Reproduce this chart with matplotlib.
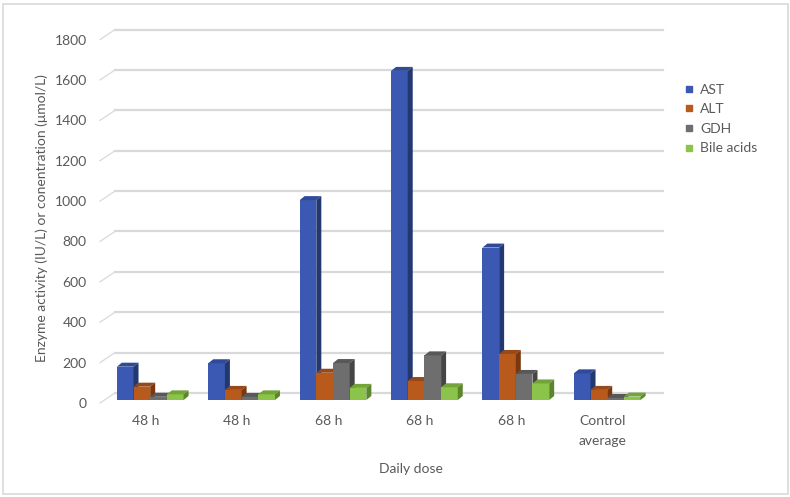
import numpy as np
import matplotlib
matplotlib.use('Agg')
import matplotlib.pyplot as plt
from matplotlib.patches import Polygon, Rectangle
from matplotlib.lines import Line2D

plt.rcParams['font.family'] = ['Lato', 'DejaVu Sans']

categories = ['48 h', '48 h', '68 h', '68 h', '68 h', 'Control\naverage']
series = ['AST', 'ALT', 'GDH', 'Bile acids']
ast = [165, 182, 990, 1630, 755, 132]
alt = [66, 50, 135, 94, 228, 50]
gdh = [16, 15, 183, 221, 129, 10]
bile = [28, 28, 60, 63, 82, 17]
values = [ast, alt, gdh, bile]

front = ['#3B58B2', '#B85A1C', '#6E6E6E', '#8CC44B']
side = ['#22386F', '#7A3810', '#454545', '#5C862C']
top = ['#2F4A99', '#97491A', '#585858', '#73A43A']

W, H = 790, 497
fig = plt.figure(figsize=(W / 100, H / 100), dpi=100)
fig.patch.set_facecolor('white')
fig.add_artist(Rectangle((2.5 / W, 3.5 / H), 785 / W, 490 / H, transform=fig.transFigure,
                         fill=False, edgecolor='#D9D9D9', linewidth=1.2))

px_cat = 91.4      # pixels per category
px_val = 0.2019    # pixels per unit value
left, right, bottom, topp = 100, 663, 403, 30
ax = fig.add_axes([left / W, 1 - bottom / H, (right - left) / W, (bottom - topp) / H])
ax.set_xlim(0, (right - left) / px_cat)
ax.set_ylim(0, (bottom - topp) / px_val)
for s in ax.spines.values():
    s.set_visible(False)

# depth of floor and bars (in data units)
dxu = 15 / px_cat
dyu = 10 / px_val
f = 0.3
bdx = 5 / px_cat
bdy = 4 / px_val
bw = 0.1825
gap = (1 - 4 * bw) / 2

ticks = np.arange(0, 1801, 200)
for v in ticks:
    ax.plot([dxu, 6 + dxu], [v + dyu, v + dyu], color='#D9D9D9', lw=1.6, clip_on=False, zorder=1)
    ax.plot([0, dxu], [v, v + dyu], color='#D9D9D9', lw=0.9, clip_on=False, zorder=1)

z = 2
for i in range(len(categories)):
    for j in range(len(series)):
        v = values[j][i]
        x0 = i + gap + j * bw + f * dxu
        y0 = f * dyu
        ax.add_patch(Rectangle((x0, y0), bw, v, facecolor=front[j], edgecolor='none', zorder=z))
        ax.add_patch(Polygon([(x0, y0 + v), (x0 + bw, y0 + v), (x0 + bw + bdx, y0 + v + bdy),
                              (x0 + bdx, y0 + v + bdy)], closed=True, facecolor=top[j],
                             edgecolor='none', zorder=z))
        ax.add_patch(Polygon([(x0 + bw, y0), (x0 + bw, y0 + v), (x0 + bw + bdx, y0 + v + bdy),
                              (x0 + bw + bdx, y0 + bdy)], closed=True, facecolor=side[j],
                             edgecolor='none', zorder=z))
        z += 1

ax.set_yticks(ticks)
ax.set_yticklabels([str(t) for t in ticks])
ax.set_xticks(np.arange(len(categories)) + 0.5)
ax.set_xticklabels(categories, linespacing=1.8)
ax.tick_params(axis='y', length=0, pad=9.5, labelsize=10, labelcolor='#595959')
ax.tick_params(axis='x', length=0, pad=8.5, labelsize=10, labelcolor='#595959')

fig.text(411 / W, 1 - 469 / H, 'Daily dose', ha='center', va='center', fontsize=10, color='#595959')
fig.text(42 / W, 1 - 218 / H, 'Enzyme activity (IU/L) or conentration (μmol/L)', rotation=90,
         ha='center', va='center', fontsize=10, color='#595959')

handles = [Line2D([], [], marker='s', ls='', color=c, markersize=5) for c in front]
fig.legend(handles, series, loc='upper left', bbox_to_anchor=(678 / W, 1 - 78 / H),
           frameon=False, fontsize=10, labelcolor='#595959', handlelength=0.8,
           handletextpad=0.4, labelspacing=0.55, borderaxespad=0)

fig.savefig('out.png', dpi=100)
